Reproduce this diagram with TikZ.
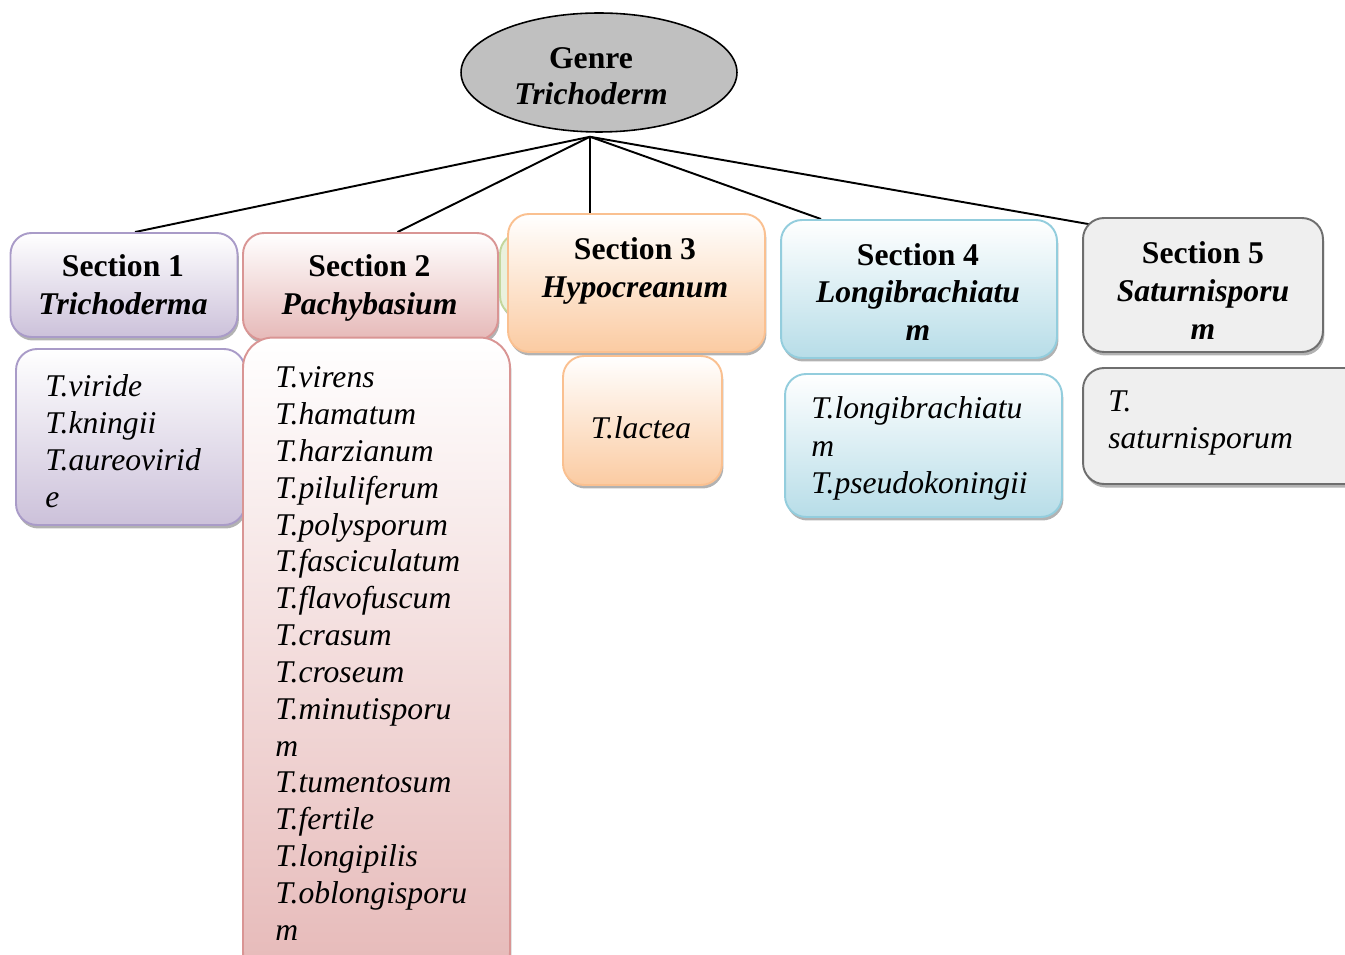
\documentclass[tikz,border=0pt]{standalone}
\usepackage{fontspec}
\setmainfont{Liberation Serif}
\usetikzlibrary{shapes.geometric,shadows,calc,backgrounds}

\definecolor{purpline}{HTML}{A99BC8}
\definecolor{purpfill}{HTML}{CCC1DA}
\definecolor{redline}{HTML}{D99594}
\definecolor{redfill}{HTML}{E6B9B8}
\definecolor{orgline}{HTML}{FAC090}
\definecolor{orgfill}{HTML}{FBCBA2}
\definecolor{grnline}{HTML}{C3D69B}
\definecolor{grnfill}{HTML}{EAF1DD}
\definecolor{bluline}{HTML}{93CDDD}
\definecolor{blufill}{HTML}{B7DDE8}
\definecolor{grayline}{HTML}{6E6E6E}
\definecolor{grayfill}{HTML}{EFEFEF}
\definecolor{genrefill}{HTML}{C0C0C0}

\tikzset{
  secbox/.style={rectangle, rounded corners=0.42cm, line width=1.1pt, inner sep=0pt,
    drop shadow={shadow xshift=0.8pt, shadow yshift=-2pt, fill=black!60, opacity=0.5}},
  purpbox/.style={secbox, draw=purpline, top color=white, bottom color=purpfill},
  redbox/.style={secbox, draw=redline, top color=white, bottom color=redfill},
  orgbox/.style={secbox, draw=orgline, top color=white, bottom color=orgfill},
  grnbox/.style={secbox, draw=grnline, fill=grnfill},
  blubox/.style={secbox, draw=bluline, top color=white, bottom color=blufill},
  graybox/.style={secbox, draw=grayline, fill=grayfill},
  headtxt/.style={align=center, inner sep=0pt, font=\fontsize{18}{21.5}\selectfont\bfseries},
  listtxt/.style={anchor=base west, inner sep=0pt, font=\fontsize{18}{21}\selectfont\itshape},
  conn/.style={line width=1.1pt}
}

\begin{document}
\begin{tikzpicture}[x=0.02cm, y=-0.02cm]
  \useasboundingbox (0,0) rectangle (1345,955);

  % genre
  \node[ellipse, draw, line width=0.9pt, fill=genrefill, minimum width=5.52cm, minimum height=2.38cm] (g) at (599,72.5) {};
  \node[headtxt, font=\fontsize{18}{20.5}\selectfont\bfseries] (gt) at (591,76.5) {Genre\\\textit{Trichoderm}};
  \coordinate (hub) at ($(g.south)+(-9,4)$);

  % section headers
  \node[purpbox, minimum width=4.54cm, minimum height=2.08cm] (s1h) at (124,285) {};
  \node[redbox, minimum width=5.1cm, minimum height=2.14cm] (s2h) at (370.5,286.5) {};
  \node[grnbox, minimum width=5.2cm, minimum height=1.68cm] (s3g) at (630,275) {};
  \node[orgbox, minimum width=5.14cm, minimum height=2.76cm] (s3h) at (636.5,283) {};
  \node[blubox, minimum width=5.52cm, minimum height=2.76cm] (s4h) at (919,289) {};
  \node[graybox, minimum width=4.8cm, minimum height=2.68cm] (s5h) at (1203,285) {};

  \node[headtxt] (s1t) at (123,284.5) {Section 1\\\textit{Trichoderma}};
  \node[headtxt] (s2t) at (369.5,288) {Section 2\\\textit{Pachybasium}};
  \node[headtxt] (s3t) at (635,271) {Section 3\\\textit{Hypocreanum}};
  \node[headtxt] (s4t) at (918,292) {Section 4\\\textit{Longibrachiatu}\\\textit{m}};
  \node[headtxt] (s5t) at (1203,290.5) {Section 5\\\textit{Saturnisporu}\\\textit{m}};

  % species boxes
  \node[purpbox, minimum width=4.58cm, minimum height=3.52cm] (s1l) at (130.5,437) {};
  \node[redbox, rounded corners=0.6cm, minimum width=5.34cm, minimum height=12.9cm] (s2l) at (376.5,660) {};
  \node[orgbox, minimum width=3.18cm, minimum height=2.58cm] (s3l) at (642.5,420.5) {};
  \node[blubox, minimum width=5.54cm, minimum height=2.86cm] (s4l) at (923.5,445.5) {};
  \node[graybox, minimum width=5.8cm, minimum height=2.32cm] (s5l) at (1228,426) {};

  \foreach \sp [count=\i] in {T.viride,T.kningii,T.aureovirid,e}
    \node[listtxt] (l1-\i) at (45,{360.3+36.7*\i}) {\sp};
  \foreach \sp [count=\i] in {T.virens,T.hamatum,T.harzianum,T.piluliferum,T.polysporum,T.fasciculatum,T.flavofuscum,T.crasum,T.croseum,T.minutisporu,m,T.tumentosum,T.fertile,T.longipilis,T.oblongisporu,m}
    \node[listtxt] (l2-\i) at (275,{351.2+36.8*\i}) {\sp};
  \node[listtxt, anchor=base] (l3-1) at (641,439) {T.lactea};
  \foreach \sp [count=\i] in {T.longibrachiatu,m,T.pseudokoningii}
    \node[listtxt] (l4-\i) at (811,{381.5+37.5*\i}) {\sp};
  \foreach \sp [count=\i] in {T.,saturnisporum}
    \node[listtxt] (l5-\i) at (1108,{375+37*\i}) {\sp};

  % connectors
  \begin{scope}[on background layer]
    \draw[conn] (hub) -- ($(s1h.north)+(11,0)$);
    \draw[conn] (hub) -- ($(s2h.north)+(27,0)$);
    \draw[conn] (hub) -- ($(s3h.north)+(-46.5,0)$);
    \draw[conn] (hub) -- ($(s4h.north)+(-98,0)$);
    \draw[conn] (hub) -- ($(s5h.north west)+(12,8)$);
  \end{scope}
\end{tikzpicture}
\end{document}
